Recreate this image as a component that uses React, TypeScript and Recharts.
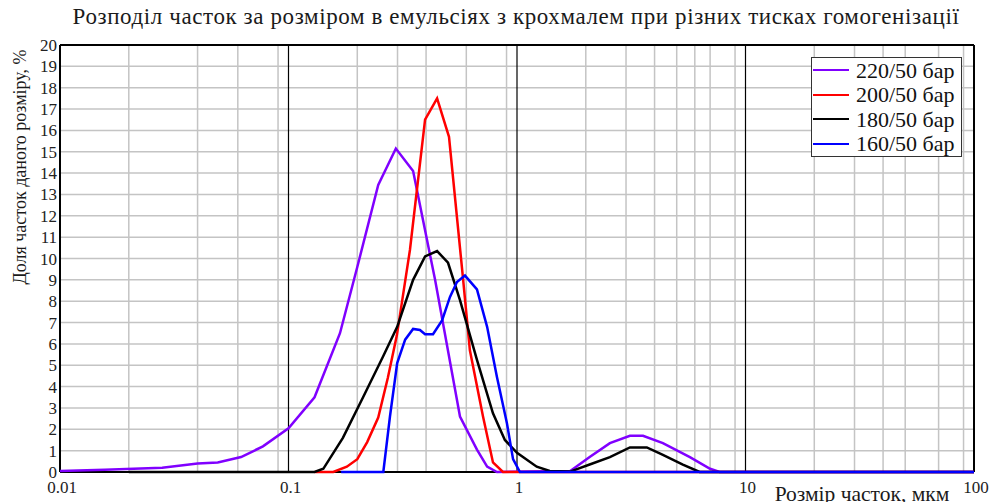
import React from "react";
import {
  Legend,
  Line,
  LineChart,
  CartesianGrid,
  XAxis,
  YAxis,
  Label,
} from "recharts";

const FONT = "'Liberation Serif', 'Times New Roman', serif";

const xTicks = [0.01, 0.1, 1, 10, 100];
const yTicks = [0, 1, 2, 3, 4, 5, 6, 7, 8, 9, 10, 11, 12, 13, 14, 15, 16, 17, 18, 19, 20];

// 220/50 бар
const purpleSize = [0.01, 0.0157, 0.028, 0.04, 0.049, 0.062, 0.0773, 0.1, 0.13, 0.168, 0.2, 0.247, 0.295, 0.351, 0.438, 0.563, 0.668, 0.74, 0.817, 1.71, 2.08, 2.55, 3.12, 3.56, 4.35, 5.71, 7.0, 7.7, 100];
const purplePct = [0.05, 0.1, 0.2, 0.4, 0.45, 0.7, 1.2, 2.05, 3.5, 6.5, 9.6, 13.45, 15.15, 14.1, 9.0, 2.6, 1.05, 0.25, 0, 0.05, 0.7, 1.35, 1.7, 1.7, 1.35, 0.7, 0.15, 0, 0];

// 200/50 бар
const redSize = [0.13, 0.157, 0.18, 0.2, 0.221, 0.247, 0.272, 0.298, 0.34, 0.396, 0.447, 0.504, 0.58, 0.622, 0.71, 0.785, 0.868, 100];
const redPct = [0, 0, 0.25, 0.6, 1.4, 2.55, 4.4, 6.4, 10.4, 16.5, 17.5, 15.7, 9.1, 5.7, 2.6, 0.45, 0, 0];

// 180/50 бар
const blackSize = [0.02, 0.13, 0.142, 0.173, 0.212, 0.259, 0.299, 0.351, 0.396, 0.447, 0.499, 0.563, 0.668, 0.785, 0.885, 1.0, 1.22, 1.39, 1.71, 2.08, 2.55, 3.12, 3.7, 4.35, 5.32, 6.3, 100];
const blackPct = [0, 0, 0.15, 1.6, 3.5, 5.4, 6.8, 9.0, 10.1, 10.35, 9.8, 8.05, 5.25, 2.75, 1.5, 0.9, 0.25, 0.05, 0.02, 0.35, 0.7, 1.15, 1.15, 0.8, 0.35, 0, 0];

// 160/50 бар
const blueSize = [0.17, 0.26, 0.278, 0.299, 0.324, 0.351, 0.376, 0.396, 0.429, 0.47, 0.509, 0.546, 0.592, 0.668, 0.74, 0.817, 0.903, 0.961, 1.03, 100];
const bluePct = [0, 0, 2.6, 5.1, 6.2, 6.7, 6.65, 6.45, 6.45, 7.1, 8.2, 8.9, 9.2, 8.55, 6.8, 4.45, 2.3, 0.6, 0, 0];

const zip = (xs: number[], ys: number[]) => xs.map((x, i) => ({ x, y: ys[i] }));

const series = [
  { name: "220/50 бар", color: "#8000ff", data: zip(purpleSize, purplePct) },
  { name: "200/50 бар", color: "#ff0000", data: zip(redSize, redPct) },
  { name: "180/50 бар", color: "#000000", data: zip(blackSize, blackPct) },
  { name: "160/50 бар", color: "#0000ff", data: zip(blueSize, bluePct) },
];

// minor log grid lines 2..9 in every decade
const minorX: number[] = [];
[0.01, 0.1, 1, 10].forEach((d) => {
  for (let k = 2; k <= 9; k++) minorX.push(Number((k * d).toPrecision(3)));
});

const renderLegend = () => (
  <div
    style={{
      background: "#fff",
      border: "1px solid #333",
      width: 151,
      height: 100,
      boxSizing: "border-box",
      padding: "0 0 0 1px",
      fontFamily: FONT,
      fontSize: 22,
      lineHeight: "25px",
      color: "#111",
    }}
  >
    {series.map((s) => (
      <div key={s.name} style={{ display: "flex", alignItems: "center", height: 24.5 }}>
        <span style={{ display: "inline-block", width: 36, height: 2, background: s.color, marginRight: 7 }} />
        <span>{s.name}</span>
      </div>
    ))}
  </div>
);

export default function App() {
  return (
    <div style={{ position: "absolute", left: 0, top: 0, width: 991, height: 502, background: "#fff", overflow: "hidden" }}>
      <div
        style={{
          position: "absolute",
          top: 4,
          left: 0,
          width: 1032,
          textAlign: "center",
          fontFamily: FONT,
          fontSize: 23,
          letterSpacing: 0.6,
          color: "#1a1a1a",
          whiteSpace: "nowrap",
        }}
      >
        Розподіл часток за розміром в емульсіях з крохмалем при різних тисках гомогенізації
      </div>
      <LineChart width={991} height={502} margin={{ top: 45, right: 17, left: 10, bottom: 0 }}>
        <CartesianGrid
          stroke="#c4c4c4"
          strokeWidth={1.5}
          horizontalValues={yTicks.slice(1, -1)}
          verticalValues={minorX}
        />
        <CartesianGrid
          stroke="#000"
          strokeWidth={1.2}
          horizontal={false}
          verticalValues={[0.1, 1, 10]}
        />
        <CartesianGrid
          stroke="#000"
          strokeWidth={2}
          horizontalValues={[0, 20]}
          verticalValues={[0.01, 100]}
        />
        <XAxis
          dataKey="x"
          type="number"
          scale="log"
          domain={[0.01, 100]}
          ticks={xTicks}
          height={30}
          tickLine={false}
          tickSize={6}
          tickMargin={3}
          axisLine={false}
          tick={{ fontFamily: FONT, fontSize: 17, fill: "#222", dx: 2 }}
          tickFormatter={(v) => String(v)}
        >
          <Label
            content={() => (
              <text x={862} y={501} textAnchor="middle" fontFamily={FONT} fontSize={21.5} fill="#1a1a1a">
                Розмір часток, мкм
              </text>
            )}
          />
        </XAxis>
        <YAxis
          type="number"
          domain={[0, 20]}
          ticks={yTicks}
          interval={0}
          width={50}
          tickLine={false}
          tickSize={1}
          tickMargin={2}
          axisLine={false}
          tick={{ fontFamily: FONT, fontSize: 17, fill: "#222" }}
        >
          <Label
            content={() => (
              <text
                x={26}
                y={167}
                textAnchor="middle"
                fontFamily={FONT}
                fontSize={18}
                fill="#1a1a1a"
                transform="rotate(-90 26 167)"
              >
                Доля часток даного розміру, %
              </text>
            )}
          />
        </YAxis>
        {series.map((s) => (
          <Line
            key={s.name}
            data={s.data}
            dataKey="y"
            name={s.name}
            type="linear"
            stroke={s.color}
            strokeWidth={2.5}
            dot={false}
            activeDot={false}
            isAnimationActive={false}
          />
        ))}
        <Legend
          layout="horizontal"
          verticalAlign="middle"
          align="center"
          wrapperStyle={{ left: 811, top: 57, width: 151, height: 100 }}
          content={renderLegend}
        />
      </LineChart>
    </div>
  );
}
